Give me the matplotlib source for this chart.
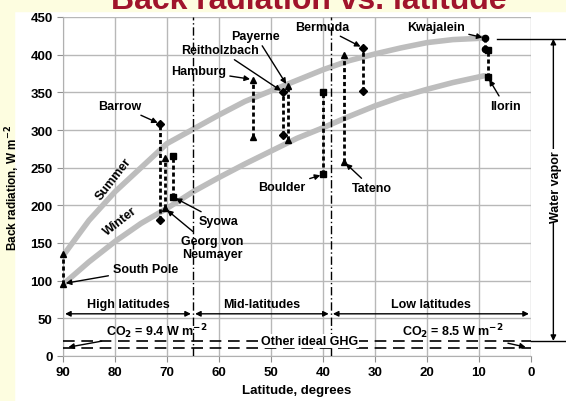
import numpy as np
import matplotlib
matplotlib.use('Agg')
import matplotlib.pyplot as plt
from matplotlib.patches import Rectangle

plt.rcParams['font.family'] = ['Liberation Sans', 'DejaVu Sans']
plt.rcParams['font.weight'] = 'bold'

# smooth curves (latitude, W m-2)
curve_lat = [90, 85, 80, 75, 70, 65, 60, 55, 50, 45, 40, 35, 30, 25, 20, 15, 9]
summer = [133, 180, 218, 250, 282, 301, 320, 338, 352, 366, 380, 392, 401, 409, 416, 420, 422]
winter = [95, 125, 152, 176, 196, 218, 237, 255, 272, 289, 303, 318, 332, 344, 354, 363, 372]

# stations: latitude, summer value, winter value
stations = ['South Pole', 'Barrow', 'Georg von\nNeumayer', 'Syowa', 'Hamburg', 'Reitholzbach',
            'Payerne', 'Boulder', 'Tateno', 'Bermuda', 'Kwajalein', 'Ilorin']
st_lat = [90, 71.3, 70.4, 68.8, 53.5, 47.6, 46.8, 40.0, 36.0, 32.3, 8.8, 8.3]
st_high = [135, 308, 263, 266, 367, 350, 358, 351, 400, 409, 422, 406]
st_low = [96, 180, 196, 211, 291, 293, 287, 241, 258, 352, 407, 370]
st_mark = ['^', 'D', '^', 's', '^', 'D', '^', 's', '^', 'D', 'o', 's']

regions = ['High latitudes', 'Mid-latitudes', 'Low latitudes']
region_edges = [90, 65, 38.5, 0]
co2_high = 9.4
co2_low = 8.5

fig = plt.figure(figsize=(5.66, 4.02), dpi=100)
fig.patch.set_facecolor('white')
bg = '#fdfde0'
fig.add_artist(Rectangle((0, 0), 14 / 566, 1, transform=fig.transFigure, color=bg, zorder=0))
fig.add_artist(Rectangle((0, 1 - 12 / 402), 1, 12 / 402, transform=fig.transFigure, color=bg, zorder=0))
fig.text(0.545, 1 - 9 / 402, 'Back radiation vs. latitude', ha='center', va='baseline',
         fontsize=23, color='#a0142c', fontweight='bold')

ax = fig.add_axes([63 / 566, 1 - 357 / 402, 468 / 566, 339 / 402])
ax.set_xlim(90, 0)
ax.set_ylim(0, 450)
ax.set_xticks(np.arange(90, -1, -10))
ax.set_yticks(np.arange(0, 451, 50))
ax.grid(color='#b8b8b8', lw=1)
ax.set_axisbelow(True)
for s in ax.spines.values():
    s.set_color('#b0b0b0')
ax.spines['top'].set_visible(False)
ax.spines['right'].set_visible(False)
ax.tick_params(colors='#909090', labelcolor='black', labelsize=9.5, length=4)
for lab in ax.get_xticklabels() + ax.get_yticklabels():
    lab.set_fontweight('bold')
ax.set_xlabel('Latitude, degrees', fontsize=9.5, fontweight='bold', labelpad=4)
ax.set_ylabel('Back radiation, W m$^{-2}$', fontsize=8.5, fontweight='bold', labelpad=6)

ax.plot(curve_lat, summer, color='#bdbdbd', lw=4, solid_capstyle='round', zorder=2)
ax.plot(curve_lat, winter, color='#bdbdbd', lw=4, solid_capstyle='round', zorder=2)
ax.text(80.3, 236, 'Summer', rotation=52, ha='center', va='center', fontsize=9)
ax.text(79, 180, 'Winter', rotation=38, ha='center', va='center', fontsize=9)

for la, hi, lo, mk in zip(st_lat, st_high, st_low, st_mark):
    ax.plot([la, la], [lo, hi], color='black', lw=2, ls=(0, (1.5, 1)), zorder=3, clip_on=False)
    ax.plot([la, la], [lo, hi], ls='none', marker=mk, ms=4 if mk == 'D' else 4.5,
            color='black', zorder=4, clip_on=False)

arr = dict(arrowstyle='-|>', color='black', lw=1, mutation_scale=8, shrinkA=1, shrinkB=2)
labels_xy = {
    'South Pole': ((74.2, 115), (90, 96)),
    'Barrow': ((79, 332), (71.3, 308)),
    'Georg von\nNeumayer': ((61.3, 144), (70.4, 196)),
    'Syowa': ((60.0, 179), (68.8, 211)),
    'Hamburg': ((64, 378), (53.5, 367)),
    'Reitholzbach': ((59.8, 406), (47.6, 350)),
    'Payerne': ((52.9, 425), (46.8, 358)),
    'Boulder': ((47.9, 224), (40.0, 241)),
    'Tateno': ((30.6, 223), (36.0, 258)),
    'Bermuda': ((40.2, 437), (32.3, 409)),
    'Kwajalein': ((18.3, 437), (8.8, 422)),
    'Ilorin': ((5.0, 332), (8.3, 370)),
}
for name in stations:
    (tx, ty), (px, py) = labels_xy[name]
    ax.annotate(name, xy=(px, py), xytext=(tx, ty), ha='center', va='center', fontsize=9,
                linespacing=1.1, arrowprops=arr, zorder=5)

# region separators and arrows
for e in region_edges[1:-1]:
    ax.axvline(e, color='black', lw=1, ls=(0, (6, 2, 1, 2)), zorder=3)
harr = dict(arrowstyle='<|-|>', color='black', lw=1, mutation_scale=8, shrinkA=0, shrinkB=0)
for name, a, b in zip(regions, region_edges[:-1], region_edges[1:]):
    ax.annotate('', xy=(b + 0.4, 56), xytext=(a - 0.4, 56), arrowprops=harr)
    ax.text((a + b) / 2, 69, name, ha='center', va='center', fontsize=9)

# GHG lines
ax.plot([90, 0], [20, 20], color='black', lw=1.2, ls=(0, (7, 4)), zorder=3)
ax.plot([90, 0], [11, 11], color='black', lw=1.2, ls=(0, (7, 4)), zorder=3)
ax.text(42.5, 20, 'Other ideal GHG', ha='center', va='center', fontsize=9,
        bbox=dict(facecolor='white', edgecolor='none', pad=0.5), zorder=4)
ax.annotate('CO$_2$ = %.1f W m$^{-2}$' % co2_high, xy=(89.5, 11), xytext=(72, 33), ha='center',
            va='center', fontsize=9, arrowprops=arr, zorder=5)
ax.annotate('CO$_2$ = %.1f W m$^{-2}$' % co2_low, xy=(0.5, 11), xytext=(15, 33), ha='center',
            va='center', fontsize=9, arrowprops=arr, zorder=5)

# water vapor bracket
wx = -4.3
ax.plot([6.5, -7], [421, 421], color='black', lw=1, clip_on=False)
ax.plot([0, -7], [20, 20], color='black', lw=1, clip_on=False)
ax.annotate('', xy=(wx, 421), xytext=(wx, 20), annotation_clip=False,
            arrowprops=dict(arrowstyle='<|-|>', color='black', lw=1, mutation_scale=8,
                            shrinkA=0, shrinkB=0))
ax.text(wx - 0.6, 226, 'Water vapor', rotation=90, ha='center', va='center', fontsize=9,
        clip_on=False, bbox=dict(facecolor='white', edgecolor='none', pad=0.3), zorder=5)

fig.savefig('out.png', dpi=100, facecolor=fig.get_facecolor())
